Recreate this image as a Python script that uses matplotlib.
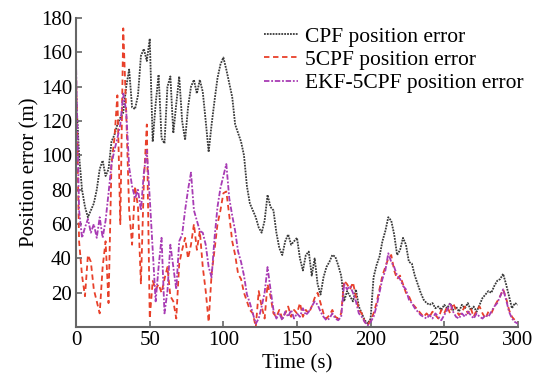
import matplotlib
matplotlib.use('Agg')
import matplotlib.pyplot as plt
import numpy as np

# time axis (s), every 2 s
t = np.arange(0, 302, 2)

cpf = [135, 100, 80, 70, 64, 68, 72, 80, 92, 97, 88, 92, 108, 112, 118, 122, 125, 140, 150, 128,
       127, 135, 158, 162, 155, 168, 108, 130, 147, 110, 107, 140, 146, 113, 130, 146, 120, 109, 128, 140,
       144, 136, 144, 137, 120, 102, 118, 132, 145, 153, 157, 150, 142, 134, 118, 113, 108, 100, 82, 72,
       68, 64, 58, 55, 62, 77, 70, 68, 55, 46, 42, 50, 54, 48, 50, 52, 40, 33, 42, 44,
       30, 40, 25, 19, 29, 35, 38, 42, 41, 36, 30, 15, 21, 18, 15, 22, 12, 8, 4, 2,
       5, 29, 36, 41, 50, 56, 64, 62, 54, 42, 45, 52, 48, 38, 37, 30, 25, 20, 16, 14,
       13, 14, 11, 12, 10, 13, 11, 14, 10, 12, 9, 13, 11, 14, 10, 12, 9, 13, 17, 19,
       21, 20, 24, 27, 28, 31, 25, 18, 11, 14, 13]

cpf5 = [145, 50, 30, 18, 42, 38, 22, 15, 8, 35, 50, 14, 95, 110, 135, 60, 174, 125, 68, 48,
        82, 70, 25, 85, 118, 5, 27, 22, 25, 20, 28, 35, 18, 15, 5, 37, 45, 52, 40, 48,
        60, 45, 56, 35, 21, 3, 31, 45, 60, 68, 78, 79, 65, 50, 42, 31, 28, 20, 15, 10,
        8, 0, 21, 12, 5, 25, 18, 8, 6, 10, 5, 8, 12, 6, 10, 8, 14, 6, 10, 8,
        12, 17, 20, 14, 8, 5, 7, 10, 6, 5, 8, 27, 25, 22, 26, 18, 10, 8, 3, 1,
        4, 8, 14, 22, 30, 35, 40, 42, 33, 28, 30, 25, 20, 18, 14, 12, 10, 8, 6, 8,
        6, 9, 7, 5, 10, 8, 12, 8, 14, 10, 7, 9, 12, 8, 11, 6, 10, 12, 8, 5,
        9, 8, 12, 15, 18, 22, 17, 10, 6, 4, 3]

ekf = [150, 68, 52, 58, 63, 55, 60, 52, 64, 52, 62, 78, 95, 103, 110, 118, 136, 126, 93, 82,
       75, 80, 68, 90, 103, 75, 45, 15, 35, 52, 8, 21, 48, 35, 22, 50, 54, 68, 80, 90,
       68, 62, 56, 55, 48, 35, 29, 52, 70, 81, 88, 95, 75, 65, 56, 44, 38, 30, 19, 14,
       8, 2, 5, 12, 20, 35, 22, 10, 5, 8, 4, 9, 6, 10, 5, 8, 6, 11, 7, 9,
       12, 15, 13, 9, 6, 4, 5, 8, 5, 4, 6, 25, 22, 24, 20, 15, 8, 6, 3, 1,
       3, 6, 12, 20, 28, 33, 43, 38, 35, 30, 28, 24, 22, 16, 14, 11, 9, 7, 6, 5,
       7, 5, 8, 6, 4, 7, 10, 14, 9, 6, 5, 8, 6, 9, 7, 5, 8, 6, 5, 7,
       6, 9, 12, 14, 18, 22, 16, 9, 5, 3, 2]

labels = ['CPF position error', '5CPF position error', 'EKF-5CPF position error']

plt.rcParams['font.family'] = ['Liberation Serif', 'DejaVu Serif']

fig = plt.figure(figsize=(5.4, 3.76), dpi=100)
ax = fig.add_axes([0.141, 0.130, 0.818, 0.822])

ax.plot(t, cpf, color='#3a3a3a', ls=(0, (1, 0.6)), lw=1.3, label=labels[0])
ax.plot(t, cpf5, color='#e8402a', ls=(0, (3, 2)), lw=1.3, label=labels[1])
ax.plot(t, ekf, color='#a83cb4', ls=(0, (3, 1, 1, 1)), lw=1.3, label=labels[2])

ax.set_xlim(0, 300)
ax.set_ylim(0, 180)
ax.set_xticks(range(0, 301, 50))
ax.set_yticks(range(20, 181, 20))
ax.tick_params(direction='in', labelsize=15, length=4, width=1.2, color='#666666', pad=3)
for s in ['top', 'right']:
    ax.spines[s].set_visible(False)
for s in ['left', 'bottom']:
    ax.spines[s].set_color('#666666')
    ax.spines[s].set_linewidth(1.5)

ax.set_xlabel('Time (s)', fontsize=15, labelpad=3)
ax.set_ylabel('Position error (m)', fontsize=15, labelpad=1)

ax.legend(loc='upper left', bbox_to_anchor=(0.405, 1.0), frameon=False, fontsize=15.5,
          handlelength=1.6, handletextpad=0.3, labelspacing=0.15, borderaxespad=0)

fig.savefig('out.png', dpi=100)
